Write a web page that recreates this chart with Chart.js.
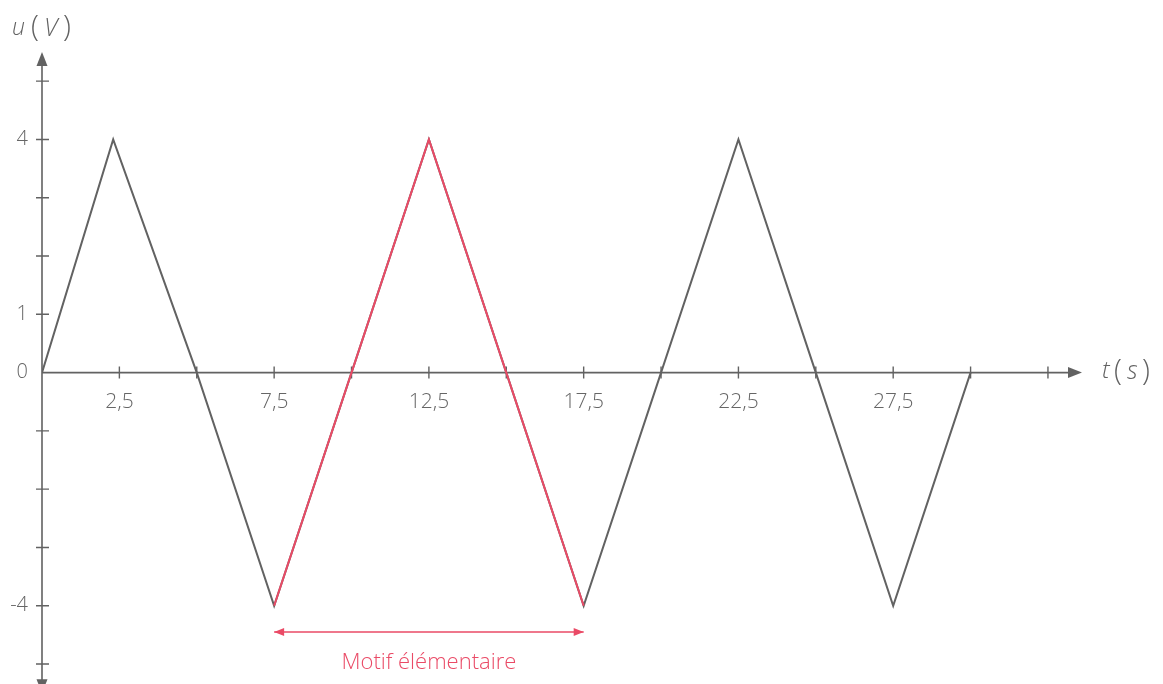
<!DOCTYPE html>
<html>
<head>
<meta charset="utf-8">
<script src="https://cdn.jsdelivr.net/npm/chart.js@4.4.1/dist/chart.umd.min.js"></script>
<style>
  html, body { margin: 0; padding: 0; background: #fff; overflow: hidden; }
  #wrap { width: 1163px; height: 684px; overflow: hidden; }
</style>
</head>
<body>
<div id="wrap"><canvas id="c" width="1163" height="717"></canvas></div>
<script>
// Data
const signalT = [0, 2.3, 5, 7.5, 10, 12.5, 15, 17.5, 20, 22.5, 25, 27.5, 30];
const signalU = [0, 4, 0, -4, 0, 4, 0, -4, 0, 4, 0, -4, 0];
const motifT = [7.5, 10, 12.5, 15, 17.5];
const motifU = [-4, 0, 4, 0, -4];
const motifArrowT = [7.5, 17.5];
const motifArrowU = [-4.45, -4.45];
const xLabelValues = [2.5, 7.5, 12.5, 17.5, 22.5, 27.5];
const yLabelValues = [4, 1, 0, -4];
const xTickStep = 2.5;
const yTickStep = 1;
const yAxisBottom = -5.5;
const motifLabel = 'Motif élémentaire';

const GRAY = '#626262';
const RED = '#ea4a66';
const FONT = "'Open Sans', 'DejaVu Sans', sans-serif";

const toPts = (xs, ys) => xs.map((x, i) => ({ x, y: ys[i] }));

function arrowHead(ctx, x, y, dir, len, half, color) {
  ctx.save();
  ctx.fillStyle = color;
  ctx.beginPath();
  if (dir === 'up') { ctx.moveTo(x, y); ctx.lineTo(x - half, y + len); ctx.lineTo(x + half, y + len); }
  if (dir === 'down') { ctx.moveTo(x, y); ctx.lineTo(x - half, y - len); ctx.lineTo(x + half, y - len); }
  if (dir === 'right') { ctx.moveTo(x, y); ctx.lineTo(x - len, y - half); ctx.lineTo(x - len, y + half); }
  if (dir === 'left') { ctx.moveTo(x, y); ctx.lineTo(x + len, y - half); ctx.lineTo(x + len, y + half); }
  ctx.closePath();
  ctx.fill();
  ctx.restore();
}

const axesPlugin = {
  id: 'axesPlugin',
  beforeDatasetsDraw(chart) {
    const { ctx, chartArea, scales: { x, y } } = chart;
    const x0 = x.getPixelForValue(0);
    const y0 = y.getPixelForValue(0);
    const yb = y.getPixelForValue(yAxisBottom);
    ctx.save();
    ctx.strokeStyle = GRAY;
    ctx.lineWidth = 1.6;
    ctx.beginPath();
    ctx.moveTo(x0, yb - 6);
    ctx.lineTo(x0, chartArea.top + 6);
    ctx.moveTo(x0, y0);
    ctx.lineTo(chartArea.right - 6, y0);
    ctx.stroke();
    ctx.lineWidth = 1.4;
    ctx.beginPath();
    for (let v = xTickStep; v <= x.max - 0.5; v += xTickStep) {
      const px = x.getPixelForValue(v);
      ctx.moveTo(px, y0 - 6); ctx.lineTo(px, y0 + 6);
    }
    for (let v = Math.ceil(y.min); v <= Math.floor(y.max); v += yTickStep) {
      if (v === 0) continue;
      const py = y.getPixelForValue(v);
      ctx.moveTo(x0 - 6, py); ctx.lineTo(x0 + 7, py);
    }
    ctx.stroke();
    ctx.restore();
    arrowHead(ctx, x0, chartArea.top, 'up', 14, 5.5, GRAY);
    arrowHead(ctx, x0, yb, 'down', 14, 5.5, GRAY);
    arrowHead(ctx, chartArea.right, y0, 'right', 14, 5.5, GRAY);
  },
  afterDatasetsDraw(chart) {
    const { ctx, scales: { x, y } } = chart;
    const ax1 = x.getPixelForValue(motifArrowT[0]);
    const ax2 = x.getPixelForValue(motifArrowT[1]);
    const ay = y.getPixelForValue(motifArrowU[0]);
    arrowHead(ctx, ax1, ay, 'left', 10, 4, RED);
    arrowHead(ctx, ax2, ay, 'right', 10, 4, RED);
    ctx.save();
    ctx.fillStyle = RED;
    ctx.font = `300 22px ${FONT}`;
    ctx.textAlign = 'center';
    ctx.textBaseline = 'middle';
    ctx.fillText(motifLabel, (ax1 + ax2) / 2, ay + 31);
    ctx.fillStyle = GRAY;
    ctx.textAlign = 'left';
    const y0 = y.getPixelForValue(0);
    // u (V)
    ctx.font = `italic 300 23px ${FONT}`;
    ctx.fillText('u', 12, 28);
    ctx.font = `200 29px ${FONT}`;
    ctx.fillText('(', 31, 28);
    ctx.font = `italic 300 25px ${FONT}`;
    ctx.fillText('V', 44, 29);
    ctx.font = `200 29px ${FONT}`;
    ctx.fillText(')', 63, 28);
    // t (s)
    ctx.font = `italic 300 24px ${FONT}`;
    ctx.fillText('t', 1102, y0 - 1);
    ctx.font = `200 29px ${FONT}`;
    ctx.fillText('(', 1114, y0 - 1);
    ctx.font = `italic 300 25px ${FONT}`;
    ctx.fillText('s', 1127, y0 - 1);
    ctx.font = `200 29px ${FONT}`;
    ctx.fillText(')', 1142, y0 - 1);
    ctx.restore();
  }
};

new Chart(document.getElementById('c'), {
  type: 'scatter',
  data: {
    datasets: [
      {
        data: toPts(motifT, motifU),
        showLine: true,
        borderColor: RED,
        borderWidth: 2,
        pointRadius: 0,
        order: 0
      },
      {
        data: toPts(signalT, signalU),
        showLine: true,
        borderColor: GRAY,
        borderWidth: 2,
        pointRadius: 0,
        order: 1
      },
      {
        data: toPts(motifArrowT, motifArrowU),
        showLine: true,
        borderColor: RED,
        borderWidth: 1.6,
        pointRadius: 0,
        order: 0
      }
    ]
  },
  options: {
    responsive: false,
    animation: false,
    events: [],
    layout: { padding: { top: 52, right: 81, bottom: 4, left: 0 } },
    plugins: { legend: { display: false }, tooltip: { enabled: false } },
    scales: {
      x: {
        type: 'linear',
        position: { y: 0 },
        min: 0,
        max: 33.6,
        afterFit: (s) => { s.height = 0; },
        grid: { display: false },
        border: { display: false },
        ticks: {
          stepSize: xTickStep,
          autoSkip: false,
          maxRotation: 0,
          padding: 9,
          color: '#666',
          font: { family: FONT, size: 21, weight: 300 },
          callback: (v) => xLabelValues.includes(v) ? String(v).replace('.', ',') : ''
        }
      },
      y: {
        type: 'linear',
        min: -5.6,
        max: 5.5,
        afterFit: (s) => { s.width = 42; },
        grid: { display: false },
        border: { display: false },
        ticks: {
          stepSize: yTickStep,
          autoSkip: false,
          padding: 6,
          color: '#666',
          font: { family: FONT, size: 20, weight: 300 },
          callback: (v) => yLabelValues.includes(v) ? String(v) : ''
        }
      }
    }
  },
  plugins: [axesPlugin]
});
</script>
</body>
</html>
